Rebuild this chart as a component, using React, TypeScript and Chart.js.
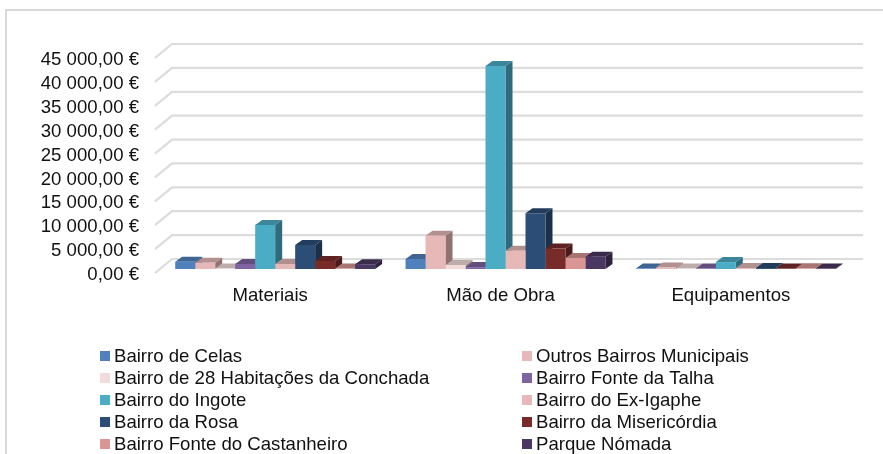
import React, { useEffect, useRef } from "react";
import { Chart, registerables } from "chart.js";

Chart.register(...registerables);

const categories = ["Materiais", "Mão de Obra", "Equipamentos"];
const seriesNames = [
  "Bairro de Celas",
  "Outros Bairros Municipais",
  "Bairro de 28 Habitações da Conchada",
  "Bairro Fonte da Talha",
  "Bairro do Ingote",
  "Bairro do Ex-Igaphe",
  "Bairro da Rosa",
  "Bairro da Misericórdia",
  "Bairro Fonte do Castanheiro",
  "Parque Nómada",
];
const colors = ["#4F81BD", "#E6B8B7", "#F2DCDB", "#8064A2", "#4BACC6", "#E6B9B8", "#2C4D75", "#772C2A", "#D99694", "#4A3763"];
const celas = [1530, 2090, 100];
const outros = [1330, 6970, 300];
const conchada = [100, 840, 100];
const talha = [1050, 400, 100];
const ingote = [9200, 42500, 1450];
const igaphe = [1050, 3840, 200];
const rosa = [5020, 11650, 200];
const misericordia = [1670, 4280, 100];
const castanheiro = [100, 2300, 150];
const nomada = [1000, 2570, 100];
const seriesValues = [celas, outros, conchada, talha, ingote, igaphe, rosa, misericordia, castanheiro, nomada];

const FONT = "'Liberation Sans', Arial, sans-serif";
const TEXT = "#111111";
const FONT_SIZE = 18.6;
const DX = 7;
const DY = 5;

function shade(hex: string, f: number) {
  const n = parseInt(hex.slice(1), 16);
  const c = [(n >> 16) & 255, (n >> 8) & 255, n & 255].map((v) => Math.round(v * f));
  return `rgb(${c[0]},${c[1]},${c[2]})`;
}

const scene = {
  id: "scene",
  beforeDraw(chart: any) {
    const { ctx, chartArea, scales, width, height } = chart;
    ctx.save();
    ctx.strokeStyle = "#d9d9d9";
    ctx.lineWidth = 2;
    ctx.beginPath();
    ctx.moveTo(6, height);
    ctx.lineTo(6, 10);
    ctx.lineTo(width, 10);
    ctx.stroke();
    ctx.lineWidth = 2.2;
    ctx.strokeStyle = "#dcdcdc";
    for (const t of scales.y.ticks) {
      const y = scales.y.getPixelForValue(t.value) - 2;
      ctx.beginPath();
      ctx.moveTo(chartArea.left, y);
      ctx.lineTo(chartArea.left + 17, y - 14);
      ctx.lineTo(chartArea.right + 17, y - 14);
      ctx.stroke();
    }
    ctx.restore();
  },
  beforeDatasetsDraw(chart: any) {
    const { ctx } = chart;
    ctx.save();
    ctx.translate(5, -6);
    const n = chart.data.datasets.length;
    for (let c = 0; c < categories.length; c++) {
      for (let d = 0; d < n; d++) {
        const bar = chart.getDatasetMeta(d).data[c];
        const col = colors[d];
        const l = bar.x - bar.width / 2;
        const r = bar.x + bar.width / 2;
        const t = bar.y;
        const b = bar.base;
        ctx.fillStyle = shade(col, 0.62);
        ctx.beginPath();
        ctx.moveTo(r, t);
        ctx.lineTo(r + DX, t - DY);
        ctx.lineTo(r + DX, b - DY);
        ctx.lineTo(r, b);
        ctx.closePath();
        ctx.fill();
        ctx.fillStyle = shade(col, 0.78);
        ctx.beginPath();
        ctx.moveTo(l, t);
        ctx.lineTo(l + DX, t - DY);
        ctx.lineTo(r + DX, t - DY);
        ctx.lineTo(r, t);
        ctx.closePath();
        ctx.fill();
      }
    }
  },
  afterDatasetsDraw(chart: any) {
    chart.ctx.restore();
  },
  afterDraw(chart: any) {
    const { ctx } = chart;
    ctx.save();
    ctx.font = `${FONT_SIZE}px ${FONT}`;
    ctx.textBaseline = "middle";
    ctx.textAlign = "left";
    chart.data.datasets.forEach((ds: any, i: number) => {
      const col = i % 2;
      const row = Math.floor(i / 2);
      const x = col === 0 ? 100 : 522;
      const y = 356 + row * 22;
      ctx.fillStyle = ds.backgroundColor;
      ctx.fillRect(x, y - 5, 10, 10);
      ctx.fillStyle = TEXT;
      ctx.fillText(ds.label, x + 14, y + 1);
    });
    ctx.restore();
  },
};

export default function App() {
  const ref = useRef<HTMLCanvasElement>(null);
  useEffect(() => {
    const chart = new Chart(ref.current as HTMLCanvasElement, {
      type: "bar",
      data: {
        labels: categories,
        datasets: seriesNames.map((label, i) => ({
          label,
          data: seriesValues[i],
          backgroundColor: colors[i],
          borderWidth: 0,
          barPercentage: 1,
          categoryPercentage: 0.868,
          clip: false as any,
        })),
      },
      options: {
        responsive: false,
        animation: false,
        devicePixelRatio: 1,
        layout: { padding: { top: 60, right: 37, left: 0, bottom: 0 } },
        plugins: { legend: { display: false }, title: { display: false }, tooltip: { enabled: false } },
        scales: {
          x: {
            grid: { display: false, drawTicks: false },
            border: { display: false },
            ticks: { color: TEXT, font: { family: FONT, size: FONT_SIZE }, padding: 10, maxRotation: 0 },
            afterFit: (s: any) => {
              s.height = 179;
            },
          },
          y: {
            min: 0,
            max: 45000,
            grid: { display: false, drawTicks: false },
            border: { display: false },
            ticks: {
              stepSize: 5000,
              autoSkip: false,
              color: TEXT,
              padding: 16,
              font: { family: FONT, size: FONT_SIZE },
              callback: (v: any) => String(v).replace(/\B(?=(\d{3})+$)/g, " ") + ",00 €",
            },
            afterFit: (s: any) => {
              s.width = 155;
            },
          },
        },
      },
      plugins: [scene],
    } as any);
    return () => chart.destroy();
  }, []);
  return (
    <canvas
      ref={ref}
      width={883}
      height={454}
      style={{ position: "absolute", left: 0, top: 0, width: 883, height: 454, background: "#fff" }}
    />
  );
}
